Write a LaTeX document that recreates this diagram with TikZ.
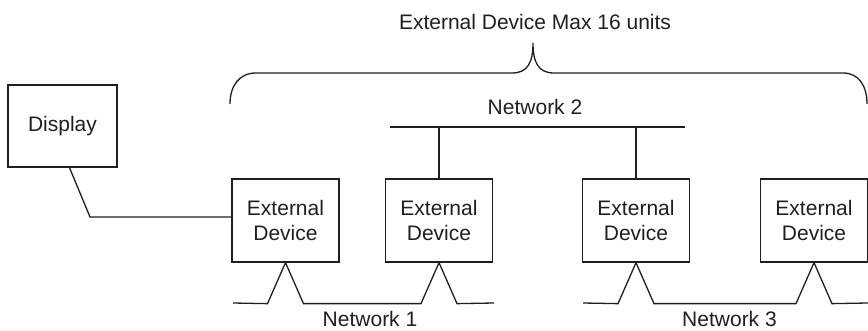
\documentclass[tikz,border=0pt]{standalone}
\usepackage{fontspec}
\setmainfont{Liberation Sans}
\usetikzlibrary{calc}
\tikzset{
  unit/.style={draw, line width=1.3pt, minimum width=107pt, minimum height=83pt, align=center, inner sep=0pt},
  wire/.style={line width=1.3pt, color=black!88, line join=miter},
  lbl/.style={inner sep=0pt}
}
\begin{document}
\begin{tikzpicture}[x=1pt, y=-1pt, font=\fontsize{21}{25}\selectfont, color=black!88]
			%%%%% START %%%%%
			\useasboundingbox (0, 0) rectangle (868, 331);
			
			\node[unit, minimum width=109pt, minimum height=82pt] (disp) at (62.5, 126) {Display};
			\node[unit] (dev1) at (285.5, 220.5) {External\\Device};
			\node[unit] (dev2) at (439, 220.5) {External\\Device};
			\node[unit] (dev3) at (636, 220.5) {External\\Device};
			\node[unit] (dev4) at (814, 220.5) {External\\Device};
			
			\node[lbl] (maxtxt) at (535, 22) {External Device Max 16 units};
			\node[lbl] (net2) at (535, 107) {Network 2};
			\node[lbl] (net1) at (370, 318.5) {Network 1};
			\node[lbl] (net3) at (729.5, 318.5) {Network 3};
			
			% brace
			\coordinate (brL) at (230, 104);
			\coordinate (brR) at (867, 104);
			\coordinate (brtip) at (533, 43);
			\draw[wire] (brL) .. controls (230, 86) and (239, 73) .. (256, 73) -- (512, 73)
			  .. controls (528, 73) and (533, 62) .. (brtip)
			  .. controls (533, 62) and (538, 73) .. (554, 73) -- (843, 73)
			  .. controls (859, 73) and (867, 86) .. (brR);
			
			% display to device
			\draw[wire] ($(disp.south)+(7, 0)$) -- (90, 217) -- (dev1.west |- 0, 217);
			
			% network 2
			\coordinate (n2a) at (390, 127);
			\coordinate (n2b) at (685, 127);
			\draw[wire] (n2a) -- (n2b);
			\draw[wire] (dev2.north) -- (dev2.north |- n2a);
			\draw[wire] (dev3.north) -- (dev3.north |- n2a);
			
			% network 1
			\coordinate (n1a) at (233, 303);
			\coordinate (n1b) at (494, 303);
			\draw[wire] (n1a) -- ($(dev1.south)+(-18, 41)$) -- (dev1.south) -- ($(dev1.south)+(18, 41)$)
			  -- ($(dev2.south)+(-18, 41)$) -- (dev2.south) -- ($(dev2.south)+(18, 41)$) -- (n1b);
			
			% network 3
			\coordinate (n3a) at (583, 303);
			\coordinate (n3b) at (868, 303);
			\draw[wire] (n3a) -- ($(dev3.south)+(-18, 41)$) -- (dev3.south) -- ($(dev3.south)+(18, 41)$)
			  -- ($(dev4.south)+(-18, 41)$) -- (dev4.south) -- ($(dev4.south)+(18, 41)$) -- (n3b);
			
			%%%%% END %%%%%
\end{tikzpicture}
\end{document}
